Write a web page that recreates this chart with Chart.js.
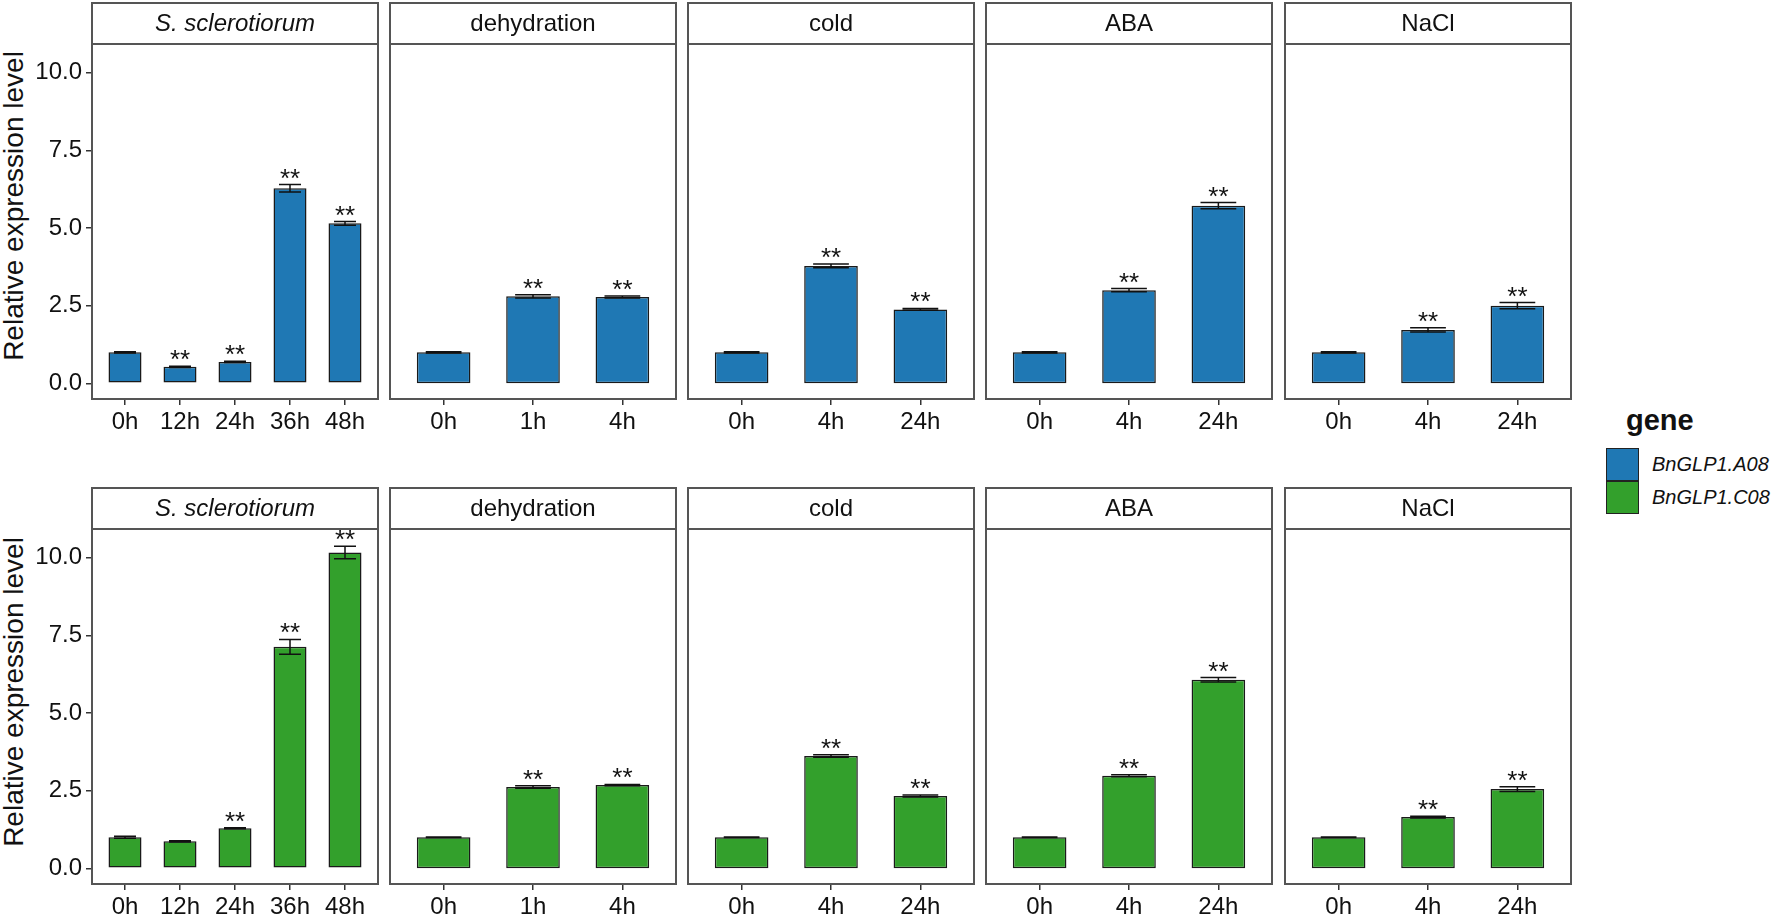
<!DOCTYPE html>
<html>
<head>
<meta charset="utf-8">
<script src="https://cdn.jsdelivr.net/npm/chart.js@4.4.1/dist/chart.umd.min.js"></script>
<style>
  body { margin: 0; background: #fff; width: 1772px; height: 918px; position: relative; overflow: hidden;
         font-family: "Liberation Sans", Arial, sans-serif; color: #111; }
  canvas { position: absolute; }
  .ytitle { position: absolute; width: 420px; height: 28px; line-height: 28px; font-size: 28px;
            text-align: center; transform: rotate(-90deg); transform-origin: 50% 50%; white-space: nowrap; }
  .legend-title { position: absolute; left: 1626px; top: 404px; font-size: 29px; font-weight: bold; }
  .key { position: absolute; left: 1606px; width: 33px; height: 33px; box-sizing: border-box; border: 1.5px solid #222; }
  .key-label { position: absolute; left: 1652px; font-size: 20px; font-style: italic; line-height: 33px; white-space: nowrap; }
</style>
</head>
<body>
<div class="ytitle" style="left:-196px; top:192px">Relative expression level</div>
<div class="ytitle" style="left:-196px; top:678px">Relative expression level</div>
<div class="legend-title">gene</div>
<div class="key" style="top:448px; background:#1f78b4"></div>
<div class="key-label" style="top:448px">BnGLP1.A08</div>
<div class="key" style="top:481px; background:#33a02c"></div>
<div class="key-label" style="top:481px">BnGLP1.C08</div>

<script>
// facets and time points
const treatments = ["S. sclerotiorum", "dehydration", "cold", "ABA", "NaCl"];
const timePoints = [
  ["0h", "12h", "24h", "36h", "48h"],
  ["0h", "1h", "4h"],
  ["0h", "4h", "24h"],
  ["0h", "4h", "24h"],
  ["0h", "4h", "24h"],
];

// BnGLP1.A08 (top row)
const a08Values = [[1.0, 0.53, 0.69, 6.28, 5.15], [1.0, 2.80, 2.78], [1.0, 3.78, 2.38], [1.0, 3.00, 5.72], [1.0, 1.72, 2.50]];
const a08Errors = [[0.02, 0.02, 0.02, 0.12, 0.06], [0.02, 0.05, 0.03], [0.02, 0.06, 0.03], [0.02, 0.05, 0.10], [0.02, 0.07, 0.10]];
const a08Stars = [[0, 1, 1, 1, 1], [0, 1, 1], [0, 1, 1], [0, 1, 1], [0, 1, 1]];

// BnGLP1.C08 (bottom row)
const c08Values = [[1.0, 0.87, 1.29, 7.13, 10.17], [1.0, 2.62, 2.68], [1.0, 3.62, 2.33], [1.0, 2.98, 6.07], [1.0, 1.65, 2.55]];
const c08Errors = [[0.03, 0.02, 0.02, 0.24, 0.20], [0.01, 0.04, 0.02], [0.01, 0.04, 0.03], [0.01, 0.03, 0.07], [0.01, 0.03, 0.08]];
const c08Stars = [[0, 0, 1, 1, 1], [0, 1, 1], [0, 1, 1], [0, 1, 1], [0, 1, 1]];

const genes = ["BnGLP1.A08", "BnGLP1.C08"];
const geneColors = ["#1f78b4", "#33a02c"];
const yTicks = [0, 2.5, 5, 7.5, 10];

// layout of the facet grid (pixels)
const panelLefts = [92, 390, 688, 986, 1285];
const panelWidth = 286;
const plotTops = [44, 529];
const plotHeight = 355;
const stripHeight = 41;
const FONT = '"Liberation Sans", Arial, sans-serif';

// strip, border, error bars and significance stars
const facetPlugin = {
  id: "facet",
  beforeDraw(chart) {
    const { ctx, chartArea } = chart;
    ctx.save();
    ctx.fillStyle = "#fff";
    ctx.fillRect(chartArea.left, chartArea.top - stripHeight, chartArea.right - chartArea.left, stripHeight);
    ctx.restore();
  },
  afterDatasetsDraw(chart) {
    const { ctx, chartArea, scales } = chart;
    const o = chart.options.plugins.facet;
    const xs = scales.x, ys = scales.y;
    const unit = xs.getPixelForValue(1) - xs.getPixelForValue(0);
    ctx.save();
    ctx.strokeStyle = "#111";
    ctx.lineWidth = 1.5;
    o.values.forEach((v, i) => {
      const x = xs.getPixelForValue(i);
      const hi = ys.getPixelForValue(v + o.errors[i]);
      const lo = ys.getPixelForValue(v - o.errors[i]);
      const hw = unit * 0.2;
      ctx.beginPath();
      ctx.moveTo(x - hw, hi); ctx.lineTo(x + hw, hi);
      ctx.moveTo(x - hw, lo); ctx.lineTo(x + hw, lo);
      ctx.moveTo(x, hi); ctx.lineTo(x, lo);
      ctx.stroke();
      if (o.stars[i]) {
        ctx.fillStyle = "#111";
        ctx.font = "26px " + FONT;
        ctx.textAlign = "center";
        ctx.textBaseline = "alphabetic";
        ctx.fillText("**", x, hi + 2);
      }
    });
    // panel border and strip
    ctx.strokeStyle = "#555";
    ctx.lineWidth = 2;
    ctx.strokeRect(chartArea.left, chartArea.top, chartArea.right - chartArea.left, chartArea.bottom - chartArea.top);
    ctx.strokeRect(chartArea.left, chartArea.top - stripHeight, chartArea.right - chartArea.left, stripHeight);
    ctx.fillStyle = "#111";
    ctx.font = (o.italic ? "italic " : "") + "24px " + FONT;
    ctx.textAlign = "center";
    ctx.textBaseline = "middle";
    ctx.fillText(o.title, (chartArea.left + chartArea.right) / 2, chartArea.top - stripHeight / 2 + 1);
    ctx.restore();
  },
};

function makePanel(row, col) {
  const values = row === 0 ? a08Values[col] : c08Values[col];
  const errors = row === 0 ? a08Errors[col] : c08Errors[col];
  const stars = row === 0 ? a08Stars[col] : c08Stars[col];
  const labels = timePoints[col];
  const leftPad = col === 0 ? 92 : 4;

  const canvas = document.createElement("canvas");
  canvas.width = leftPad + panelWidth + 4;
  canvas.height = 2 + stripHeight + plotHeight + 40;
  canvas.style.left = (panelLefts[col] - leftPad) + "px";
  canvas.style.top = (plotTops[row] - stripHeight - 2) + "px";
  document.body.appendChild(canvas);

  new Chart(canvas.getContext("2d"), {
    type: "bar",
    data: {
      datasets: [{
        label: genes[row],
        data: values.map((v, i) => ({ x: i, y: v })),
        backgroundColor: geneColors[row],
        borderColor: "#1a1a1a",
        borderWidth: 1.5,
        borderSkipped: false,
        barPercentage: 0.6,
        categoryPercentage: 1.0,
      }],
    },
    options: {
      responsive: false,
      animation: false,
      devicePixelRatio: 1,
      layout: { padding: { top: stripHeight + 2, left: col === 0 ? 0 : 4, right: 4, bottom: 0 } },
      plugins: {
        legend: { display: false },
        tooltip: { enabled: false },
        facet: { values, errors, stars, title: treatments[col], italic: col === 0 },
      },
      scales: {
        x: {
          type: "linear",
          offset: false,
          min: -0.6,
          max: labels.length - 1 + 0.6,
          afterFit: (s) => { s.height = 40; },
          afterBuildTicks: (s) => { s.ticks = labels.map((_, i) => ({ value: i })); },
          border: { display: false },
          grid: { offset: false, drawOnChartArea: false, drawTicks: true, tickLength: 6, color: "#333", lineWidth: 1.5 },
          ticks: {
            autoSkip: false,
            maxRotation: 0,
            padding: 3,
            color: "#111",
            font: { family: FONT, size: 24 },
            callback: (v) => labels[v] ?? "",
          },
        },
        y: {
          display: col === 0,
          min: -0.505,
          max: 10.925,
          afterFit: (s) => { s.width = col === 0 ? 92 : 0; },
          afterBuildTicks: (s) => { s.ticks = yTicks.map((v) => ({ value: v })); },
          border: { display: false },
          grid: { drawOnChartArea: false, drawTicks: true, tickLength: 6, color: "#333", lineWidth: 1.5 },
          ticks: {
            padding: 4,
            color: "#111",
            font: { family: FONT, size: 24 },
            callback: (v) => v.toFixed(1),
          },
        },
      },
    },
    plugins: [facetPlugin],
  });
}

for (let r = 0; r < 2; r++) {
  for (let c = 0; c < treatments.length; c++) makePanel(r, c);
}
</script>
</body>
</html>
